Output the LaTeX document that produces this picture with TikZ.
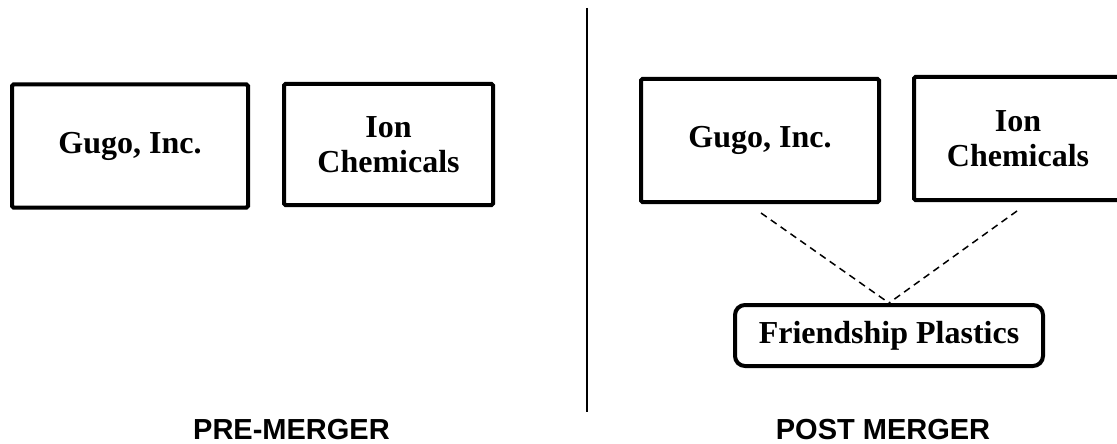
\documentclass[tikz,border=0pt]{standalone}
\usepackage{fontspec}
\setmainfont{Liberation Serif}
\newfontfamily\labelfont{Liberation Sans}
\begin{document}
\begin{tikzpicture}[x=1pt,y=-1pt,
  company/.style={draw=black, line width=4pt, rectangle, rounded corners=1.5pt, inner sep=0pt, align=center,
    font=\fontsize{32}{35}\selectfont\bfseries},
  newco/.style={draw=black, line width=4pt, rectangle, rounded corners=10pt, inner sep=0pt, align=center,
    font=\fontsize{32}{35}\selectfont\bfseries},
  phase/.style={font=\labelfont\fontsize{29}{32}\selectfont\bfseries, inner sep=0pt, text depth=0pt, anchor=base},
  link/.style={dashed, dash pattern=on 7pt off 5pt, line width=1.5pt},
  divider/.style={line width=1.5pt}]
\useasboundingbox (0,0) rectangle (1117,444);
\begin{scope}
\clip (0,0) rectangle (1117,444);
% pre-merger
\node[company, minimum width=236pt, minimum height=123pt] (gugo1) at (130,146) {Gugo, Inc.};
\node[company, minimum width=209pt, minimum height=121pt] (ion1) at (388.5,144.5) {Ion\\Chemicals};
% divider
\coordinate (dtop) at (587,8);
\coordinate (dbot) at (587,412);
\draw[divider] (dtop) -- (dbot);
% post-merger
\node[company, minimum width=238pt, minimum height=123pt] (gugo2) at (760,140.5) {Gugo, Inc.};
\node[company, minimum width=208pt, minimum height=123pt] (ion2) at (1018,138.5) {Ion\\Chemicals};
\node[newco, minimum width=308pt, minimum height=61pt] (fp) at (889,335.5) {Friendship Plastics};
\draw[link] ([xshift=1pt,yshift=-9pt]gugo2.south) -- (fp.north);
\draw[link] ([xshift=-1pt,yshift=-9pt]ion2.south) -- (fp.north);
% labels
\node[phase] (pre) at (291.5,439) {PRE-MERGER};
\node[phase] (post) at (883,439) {POST MERGER};
\end{scope}
\end{tikzpicture}
\end{document}
